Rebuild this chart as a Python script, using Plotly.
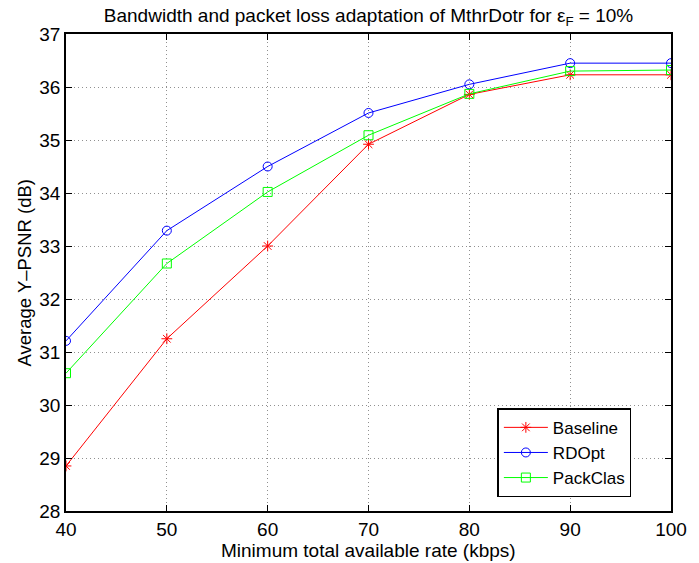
import plotly.graph_objects as go

rates = [40, 50, 60, 70, 80, 90, 100]
baseline = [28.85, 31.25, 33.0, 34.92, 35.86, 36.23, 36.23]
rdopt = [31.21, 33.29, 34.50, 35.51, 36.05, 36.45, 36.45]
packclas = [30.60, 32.67, 34.02, 35.09, 35.87, 36.30, 36.32]

series = [
    ("Baseline", baseline, "#ff0000", "asterisk-open"),
    ("RDOpt", rdopt, "#0000ff", "circle-open"),
    ("PackClas", packclas, "#00ff00", "square-open"),
]

fig = go.Figure()
for name, vals, color, sym in series:
    fig.add_trace(go.Scatter(
        x=rates, y=vals, name=name, mode="lines+markers",
        line=dict(color=color, width=1),
        marker=dict(symbol=sym, size=9, color=color, line=dict(color=color, width=1)),
    ))

font = "Liberation Sans, Arial, sans-serif"
axis_common = dict(
    showline=True, linecolor="black", linewidth=1.5, mirror="ticks",
    ticks="inside", ticklen=6, tickcolor="black", tickwidth=1,
    showgrid=True, gridcolor="#909090", griddash="1px,3px", gridwidth=1,
    zeroline=False, tickfont=dict(size=19, color="black", family=font),
    automargin=False,
)
fig.update_layout(
    width=699, height=563,
    margin=dict(l=66, r=28, t=34, b=52),
    paper_bgcolor="white", plot_bgcolor="white",
    font=dict(family=font, color="black"),
    title=dict(text="Bandwidth and packet loss adaptation of MthrDotr for ε<sub>F</sub> = 10%",
               x=0.5272, xanchor="center", yref="container", y=0.985, yanchor="top",
               font=dict(size=19, color="black", family=font)),
    xaxis=dict(range=[40, 100], tickvals=rates, **axis_common),
    yaxis=dict(range=[28, 37], dtick=1, **axis_common),
    legend=dict(x=0.713, y=0.0287, xanchor="left", yanchor="bottom",
                bgcolor="white", bordercolor="black", borderwidth=1.5,
                font=dict(size=17, color="black"), tracegroupgap=0, itemwidth=44),
    showlegend=True,
    annotations=[
        dict(text="Minimum total available rate (kbps)", xref="paper", yref="paper",
             x=0.5, y=-(550 - 511) / 477, xanchor="center", yanchor="middle", showarrow=False,
             font=dict(size=19, color="black")),
        dict(text="Average Y\u2013PSNR (dB)", xref="paper", yref="paper",
             x=-(66 - 24) / 605, y=0.5, xanchor="center", yanchor="middle", showarrow=False,
             textangle=-90, font=dict(size=18.5, color="black")),
    ],
)
fig.write_html("out.html", config={"displayModeBar": False},
               post_script="document.body.style.margin='0';")
